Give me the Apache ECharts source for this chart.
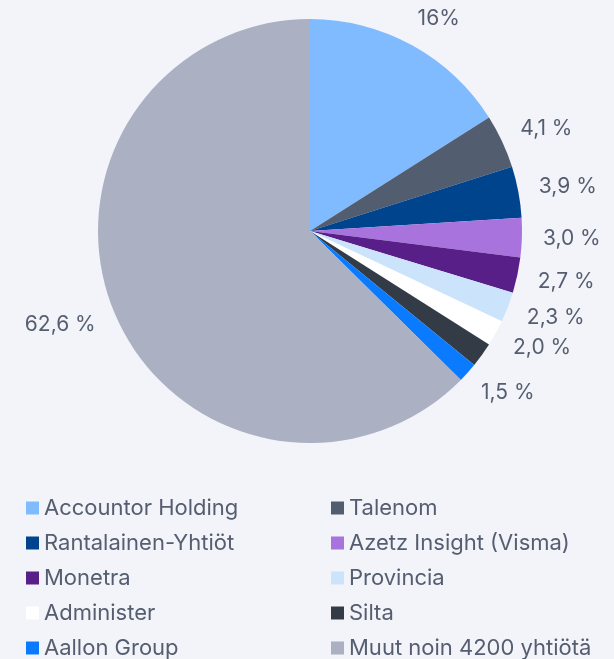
<!DOCTYPE html>
<html>
<head>
	<meta charset="UTF-8">
	<title></title>
	<script src="https://cdn.jsdelivr.net/npm/echarts@6/dist/echarts.min.js"></script>
	<style>
		html, body { margin: 0; padding: 0; background: #f3f4f9; }
	</style>
</head>
<body>
<div id="main" style="width: 614px;height:659px;"></div>
<script>
	// yritykset ja osuudet (%)
	var names = ['Accountor Holding', 'Talenom', 'Rantalainen-Yhtiöt', 'Azetz Insight (Visma)', 'Monetra',
		'Provincia', 'Administer', 'Silta', 'Aallon Group', 'Muut noin 4200 yhtiötä'];
	var shares = [16, 4.1, 3.9, 3.0, 2.7, 2.3, 2.0, 1.9, 1.5, 62.6];
	var labels = ['16%', '4,1 %', '3,9 %', '3,0 %', '2,7 %', '2,3 %', '2,0 %', '1,9 %', '1,5 %', '62,6 %'];
	var colors = ['#80bbff', '#525d70', '#00448e', '#a873dc', '#581f88', '#cce3fc', '#ffffff', '#323b46', '#0a7bff', '#abb1c3'];

	var textColor = '#555e70';
	var font = 'Inter';

	var data = [];
	for (var i = 0; i < names.length; i++) {
		data.push({ name: names[i], value: shares[i], itemStyle: { color: colors[i] } });
	}

	var leftNames = [], rightNames = [];
	for (var j = 0; j < names.length; j++) {
		if (j % 2 == 0) leftNames.push(names[j]); else rightNames.push(names[j]);
	}

	function makeLegend(list, left) {
		return {
			orient: 'vertical',
			left: left,
			top: 497,
			height: 300,
			padding: 0,
			itemWidth: 13,
			itemHeight: 13,
			itemGap: 13,
			icon: 'rect',
			data: list,
			textStyle: { color: textColor, fontSize: 22, lineHeight: 22, fontFamily: font }
		};
	}

	var myChart = echarts.init(document.getElementById('main'));
	var option = {
		backgroundColor: '#f3f4f9',
		animation: false,
		legend: [makeLegend(leftNames, 26), makeLegend(rightNames, 331)],
		series: [{
			type: 'pie',
			center: [310, 231],
			radius: 212,
			startAngle: 90,
			avoidLabelOverlap: false,
			data: data,
			label: {
				show: true,
				position: 'outside',
				color: textColor,
				fontSize: 21,
				lineHeight: 20,
				fontFamily: font,
				overflow: 'none',
				distanceToLabelLine: -9,
				formatter: function (p) { return labels[p.dataIndex]; }
			},
			labelLine: { show: false, length: 30, length2: 0 },
			emphasis: { disabled: true }
		}]
	};
	myChart.setOption(option);
</script>
</body>
</html>
